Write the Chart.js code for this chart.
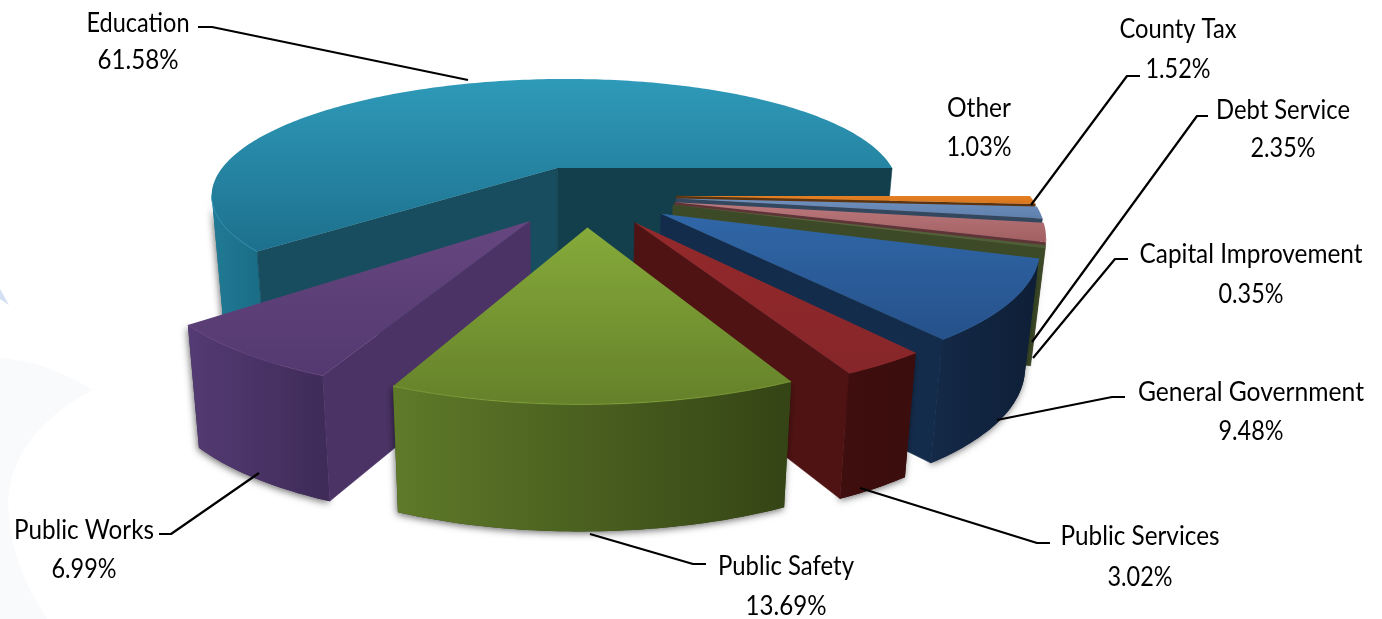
<!DOCTYPE html>
<html>
<head>
<meta charset="utf-8">
<style>html,body{margin:0;padding:0;background:#fff}canvas{display:block}</style>
<script src="https://cdn.jsdelivr.net/npm/chart.js@4"></script>
</head>
<body>
<canvas id="c" width="1382" height="619"></canvas>
<script>
// ---- data (clockwise from 3 o'clock) ----
const categories = ["Other","County Tax","Debt Service","Capital Improvement","General Government","Public Services","Public Safety","Public Works","Education"];
const shares = [1.03,1.52,2.35,0.35,9.48,3.02,13.69,6.99,61.58];

// ---- style ----
const baseColors = ["#e07b20","#6a8bb8","#b8767a","#56683c","#2f619f","#90282a","#7f9f37","#60437c","#2e97b7"];
const topLight   = ["#e47f22","#6f90bd","#bb797d","#5b6e40","#3067a8","#94292b","#86aa3a","#67467f","#2f9ab9"];
const topDark    = ["#d8761d","#5f7fac","#a25f62","#4c5c36","#26518a","#86262a","#65812a","#533970","#1c708d"];
const cutStart   = ["#5a3410","#33475f","#5f3436","#3c4a28","#142c4c","#4f1313","#3d4d18","#4b3366","#174d5e"];
const cutEnd     = ["#5a3410","#33475f","#5f3436","#3c4a28","#142c4c","#4f1313","#3d4d18","#4b3366","#133f4c"];
const rimLeft    = ["#b5661c","#5676a0","#a8666a","#6f8350","#142a48","#3f0e0e","#5f7a29","#543b73","#207a95"];
const rimRight   = ["#b5661c","#5676a0","#a8666a","#6f8350","#0e1e36","#3b0d0d","#344415","#3e2b58","#1a6b84"];
const paintOrder = [8,0,1,2,3,4,5,7,6];

// ---- label layout: [cx, y1, y2, name width, pct width], leader polyline ----
const labelLayout = {
  "Education":           {t:[138,23.5,60.5,103,81],  l:[[198,27],[212,27],[468,80]]},
  "Other":               {t:[979,108.5,147.5,64,65], l:null},
  "County Tax":          {t:[1178,29.5,69.5,117,65], l:[[1140,76],[1127,76],[1031,205]]},
  "Debt Service":        {t:[1283,110.5,148.5,134,65], l:[[1208,116],[1197,116],[1032,342]]},
  "Capital Improvement": {t:[1251,254.5,294.5,223,65], l:[[1128,259],[1115,259],[1033,358]]},
  "General Government":  {t:[1251,392.5,431.5,226,65], l:[[1125,397],[1112,397],[997,420]]},
  "Public Services":     {t:[1140,536.5,577.5,159,65], l:[[1050,543],[1037,543],[860,488]]},
  "Public Safety":       {t:[786,566.5,606.5,136,81],  l:[[706,564],[693,564],[590,534]]},
  "Public Works":        {t:[84,530.5,569.5,140,65],   l:[[159,534],[171,534],[259,473]]}
};

// ---- view: perspective mapping of the pie plane onto the picture ----
const view = {cx:557, cy:168, A:335, B:108, p:0.213, skew:11, D:110.5, q:0.1, conv:0.03, shiftU:0.091, shiftV:0.238};
function project(u, v, h){
  const U = u + view.shiftU, V = v + view.shiftV, d = 1 - view.p * V;
  let x = (view.A * U - view.skew * V) / d;
  const y = view.B * V / d + view.D * h * (1 + view.q * V);
  x *= (1 - view.conv * h);
  return [view.cx + x, view.cy + y];
}
function poly(ctx, pts){
  ctx.beginPath();
  pts.forEach((p,i)=> i ? ctx.lineTo(p[0],p[1]) : ctx.moveTo(p[0],p[1]));
  ctx.closePath();
}
function fillPoly(ctx, pts, fill){
  poly(ctx, pts);
  ctx.fillStyle = fill; ctx.fill();
  ctx.strokeStyle = fill;
  ctx.lineWidth = 0.5; ctx.stroke();
}
function drawSlice(ctx, arc, i){
  const a0 = arc.startAngle, a1 = arc.endAngle, R = arc.outerRadius;
  const off = arc.options.offset / R, mid = (a0 + a1) / 2;
  const ou = off * Math.cos(mid), ov = off * Math.sin(mid);
  const n = Math.max(3, Math.ceil((a1 - a0) / (Math.PI / 180)));
  const angles = []; for (let k = 0; k <= n; k++) angles.push(a0 + (a1 - a0) * k / n);
  const rimAt = (a, h) => project(ou + Math.cos(a), ov + Math.sin(a), h);
  const c0 = project(ou, ov, 0), c1 = project(ou, ov, 1);
  const p0 = rimAt(a0, 0), p1 = rimAt(a1, 0);

  // outer rim, only the part that faces the viewer
  const vis = [];
  for (let k = 0; k < n; k++){
    const A = rimAt(angles[k],0), Bp = rimAt(angles[k+1],0);
    if (Bp[0] < A[0]) vis.push(k);
  }
  if (vis.length){
    const first = vis[0], last = vis[vis.length-1];
    const tops = [], bots = [];
    for (let k = first; k <= last + 1; k++){ tops.push(rimAt(angles[k],0)); bots.push(rimAt(angles[k],1)); }
    const pts = tops.concat(bots.slice().reverse());
    // soft shadow under the block
    ctx.save();
    ctx.shadowColor = 'rgba(0,0,0,0.55)'; ctx.shadowBlur = 7; ctx.shadowOffsetX = -1; ctx.shadowOffsetY = 2;
    poly(ctx, pts); ctx.fillStyle = rimRight[i]; ctx.fill();
    ctx.restore();
    const xs = pts.map(p=>p[0]);
    const g = ctx.createLinearGradient(Math.min(...xs),0,Math.max(...xs),0);
    g.addColorStop(0, rimLeft[i]); g.addColorStop(1, rimRight[i]);
    poly(ctx, pts); ctx.fillStyle = g; ctx.fill();
  }
  // cut faces facing the viewer
  if (p0[0] < c0[0]) fillPoly(ctx, [c0, p0, rimAt(a0,1), c1], cutStart[i]);
  if (p1[0] > c0[0]) fillPoly(ctx, [c0, p1, rimAt(a1,1), c1], cutEnd[i]);

  // top face
  const top = [c0]; angles.forEach(a => top.push(rimAt(a,0)));
  const ys = top.map(p=>p[1]);
  const g2 = ctx.createLinearGradient(0,Math.min(...ys),0,Math.max(...ys));
  g2.addColorStop(0, topLight[i]); g2.addColorStop(1, topDark[i]);
  poly(ctx, top); ctx.fillStyle = g2; ctx.fill();
  // light edge along the rim
  if (vis.length){
    ctx.beginPath();
    for (let k = vis[0]; k <= vis[vis.length-1]+1; k++){
      const q = rimAt(angles[k],0);
      k === vis[0] ? ctx.moveTo(q[0],q[1]) : ctx.lineTo(q[0],q[1]);
    }
    ctx.strokeStyle = topLight[i]; ctx.globalAlpha = 0.7; ctx.lineWidth = 1; ctx.stroke(); ctx.globalAlpha = 1;
  }
}

const backdrop = {
  id:'backdrop',
  beforeDraw(chart){
    const ctx = chart.ctx; ctx.save();
    ctx.fillStyle = '#fff'; ctx.fillRect(0,0,chart.width,chart.height);
    ctx.fillStyle = '#f9fafc';
    ctx.beginPath(); ctx.moveTo(0,358);
    ctx.quadraticCurveTo(50,362,92,390);
    ctx.quadraticCurveTo(10,435,8,503);
    ctx.quadraticCurveTo(10,565,47,619);
    ctx.lineTo(0,619); ctx.closePath(); ctx.fill();
    ctx.fillStyle = '#d3e0f2';
    ctx.beginPath(); ctx.moveTo(0,289); ctx.lineTo(9,305); ctx.lineTo(0,299); ctx.closePath(); ctx.fill();
    ctx.restore();
  }
};
const pie3d = {
  id:'pie3d',
  beforeDatasetDraw(chart,args){
    const ctx = chart.ctx, meta = chart.getDatasetMeta(args.index);
    ctx.save();
    paintOrder.forEach(i => drawSlice(ctx, meta.data[i], i));
    ctx.restore();
    return false;
  },
  afterDatasetsDraw(chart){
    const ctx = chart.ctx;
    ctx.save();
    ctx.strokeStyle = '#000'; ctx.lineWidth = 2.2; ctx.lineJoin = 'round';
    categories.forEach(name => {
      const l = labelLayout[name].l; if (!l) return;
      ctx.beginPath(); l.forEach((p,k)=> k ? ctx.lineTo(p[0],p[1]) : ctx.moveTo(p[0],p[1])); ctx.stroke();
    });
    ctx.fillStyle = '#000'; ctx.textAlign = 'center'; ctx.textBaseline = 'middle';
    ctx.font = '26px Lato';
    categories.forEach((name,i) => {
      const t = labelLayout[name].t;
      ctx.fillText(name, t[0], t[1], t[3]);
      ctx.fillText(shares[i].toFixed(2) + '%', t[0], t[2], t[4]);
    });
    ctx.restore();
  }
};

new Chart(document.getElementById('c'), {
  type:'pie',
  data:{labels:categories, datasets:[{data:shares, backgroundColor:baseColors, borderWidth:0, offset:70}]},
  options:{
    responsive:false, animation:false, devicePixelRatio:1, rotation:90,
    layout:{padding:0},
    plugins:{legend:{display:false}, tooltip:{enabled:false}}
  },
  plugins:[backdrop, pie3d]
});
</script>
</body>
</html>
